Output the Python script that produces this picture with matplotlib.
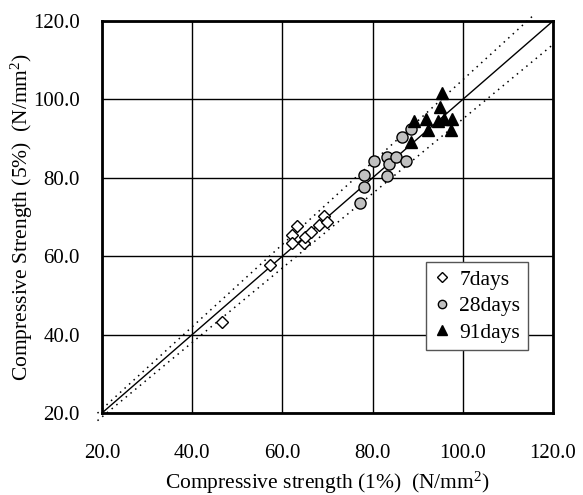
import matplotlib
matplotlib.use("Agg")
import matplotlib.pyplot as plt
import numpy as np

plt.rcParams['font.family'] = ['Liberation Serif', 'DejaVu Serif']
plt.rcParams['mathtext.fontset'] = 'custom'
plt.rcParams['mathtext.rm'] = 'Liberation Serif'
plt.rcParams['mathtext.it'] = 'Liberation Serif'
plt.rcParams['mathtext.default'] = 'rm'

# Data (1% strength on x, 5% strength on y)
x7 = [46.5, 57.3, 63.2, 62.2, 62.2, 64.8, 65.0, 66.3, 68.2, 69.2, 69.8]
y7 = [43.1, 57.8, 67.7, 65.4, 63.3, 63.3, 65.0, 66.2, 68.0, 70.3, 68.8]

x28 = [77.1, 78.2, 78.2, 80.4, 83.1, 83.3, 83.6, 85.1, 87.5, 86.5, 88.6]
y28 = [73.5, 77.6, 80.7, 84.4, 80.5, 85.2, 83.5, 85.2, 84.4, 90.3, 92.5]

x91 = [95.3, 94.9, 89.2, 91.8, 94.4, 95.9, 97.7, 92.2, 97.4, 88.6]
y91 = [101.6, 98.1, 94.6, 94.9, 94.6, 95.1, 94.9, 92.2, 92.2, 89.2]

ticks = [20, 40, 60, 80, 100, 120]
tick_labels = ["20.0", "40.0", "60.0", "80.0", "100.0", "120.0"]
upper_ratio = 1.05
lower_ratio = 0.95

W, H = 583, 495
fig = plt.figure(figsize=(W / 100, H / 100), dpi=100)
ax = fig.add_axes([102 / W, (H - 413) / H, 451 / W, 392 / H])

ax.set_xlim(20, 120)
ax.set_ylim(20, 120)
ax.set_xticks(ticks)
ax.set_yticks(ticks)
ax.set_xticklabels(tick_labels)
ax.set_yticklabels(tick_labels)
ax.tick_params(length=0, labelsize=15)
ax.tick_params(axis='x', pad=22)
ax.tick_params(axis='y', pad=16)
ax.grid(True, color='black', linewidth=1.0)
ax.set_axisbelow(True)
for s in ax.spines.values():
    s.set_linewidth(2.0)
    s.set_color('black')

# reference lines
xl = np.array([20, 120])
ax.plot(xl, xl, color='black', linewidth=1.0, zorder=2)
xu = np.array([19, 121.3 / upper_ratio])
ax.plot(xu, upper_ratio * xu, color='black', linewidth=1.1,
        linestyle=(0, (1, 3)), clip_on=False, zorder=2)
xlo = np.array([19, 120])
ax.plot(xlo, lower_ratio * xlo, color='black', linewidth=1.1,
        linestyle=(0, (1, 3)), clip_on=False, zorder=2)

ax.plot(x7, y7, linestyle='none', marker='D', markersize=6.3,
        markerfacecolor='white', markeredgecolor='black', markeredgewidth=1.0,
        label='7days', zorder=3)
ax.plot(x28, y28, linestyle='none', marker='o', markersize=8,
        markerfacecolor='#c0c0c0', markeredgecolor='black', markeredgewidth=1.0,
        label='28days', zorder=3)
ax.plot(x91, y91, linestyle='none', marker='^', markersize=8.8,
        markerfacecolor='black', markeredgecolor='black', markeredgewidth=1.0,
        label='91days', zorder=4)

leg = ax.legend(loc='upper left', bbox_to_anchor=(0.718, 0.385), fontsize=15.5,
                frameon=True, fancybox=False, handlelength=0.8,
                handletextpad=0.4, labelspacing=0.3, borderpad=0.35,
                borderaxespad=0.0, markerscale=0.75)
leg.get_frame().set_edgecolor('#555555')
leg.get_frame().set_linewidth(1.0)
leg.get_frame().set_alpha(1.0)

fig.text(327 / W, 1 - 470 / H, r"Compressive strength (1%)  (N/mm$^2$)",
         fontsize=15.5, ha='center', va='top')
fig.text(9 / W, 1 - 217 / H, r"Compressive Strength (5%)  (N/mm$^2$)",
         fontsize=15.5, ha='left', va='center', rotation=90)

fig.savefig("out.png", dpi=100)
